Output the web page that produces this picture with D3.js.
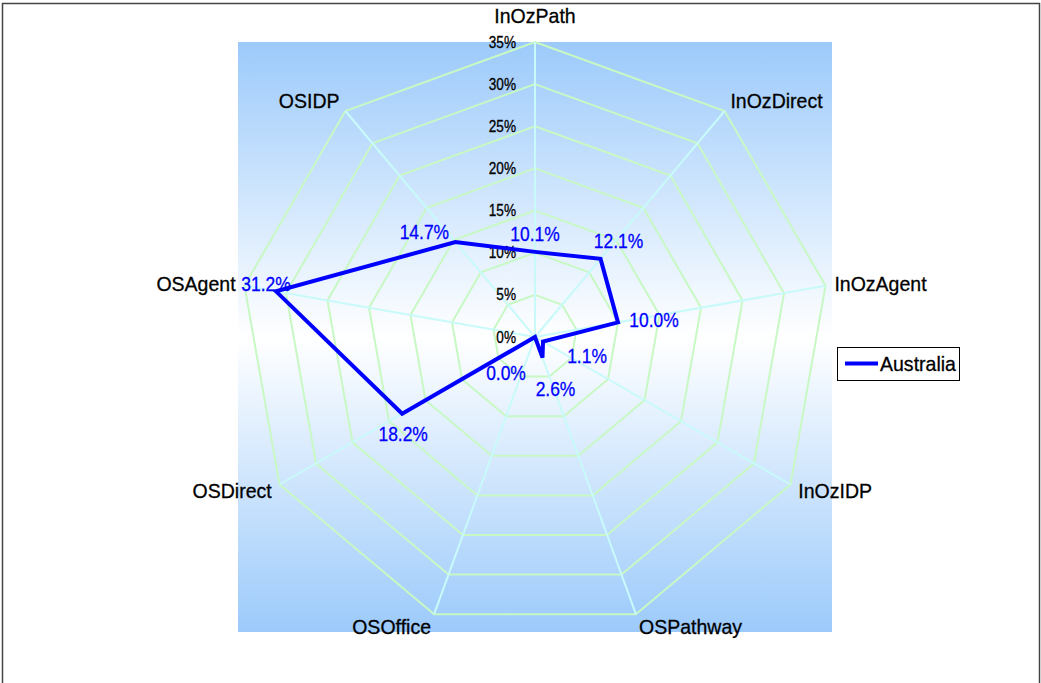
<!DOCTYPE html>
<html>
<head>
<meta charset="utf-8">
<title>Radar</title>
<script src="https://d3js.org/d3.v7.min.js"></script>
<style>
  body { margin: 0; background: #fff; }
  text { font-family: "Liberation Sans", Arial, sans-serif; }
</style>
</head>
<body>
<svg width="1041" height="683"></svg>
<script>
const categories = ["InOzPath", "InOzDirect", "InOzAgent", "InOzIDP", "OSPathway",
                    "OSOffice", "OSDirect", "OSAgent", "OSIDP"];
const australia = [10.1, 12.1, 10.0, 1.1, 2.6, 0.0, 18.2, 31.2, 14.7];
const ticks = [0, 5, 10, 15, 20, 25, 30, 35];
const seriesName = "Australia";
// little nudges for the value labels (px, relative to the point)
const labelNudge = [[0, -18], [18, -18], [36, -3], [44, 14], [13, 31],
                    [-29, 36], [1, 20], [-10, -8], [-31, -10]];

const svg = d3.select("svg");
const cx = 535, cy = 337, R = 295;

// place a horizontally squeezed text at x,y
function ntext(sel, x, y, size, anchor, fill, str, sx) {
  return sel.append("text")
    .attr("transform", `translate(${x},${y}) scale(${sx},1)`)
    .attr("dy", "0.35em").attr("text-anchor", anchor)
    .style("font-size", size + "px").attr("fill", fill)
    .attr("stroke", fill).attr("stroke-width", 0.3)
    .text(str);
}

// outer frame
svg.append("rect").attr("x", 2.5).attr("y", 3.5).attr("width", 1037).attr("height", 700)
   .attr("fill", "none").attr("stroke", "#444").attr("stroke-width", 1.5);

// plot background with vertical gradient
const grad = svg.append("defs").append("linearGradient")
    .attr("id", "bg").attr("x1", 0).attr("y1", 0).attr("x2", 0).attr("y2", 1);
grad.append("stop").attr("offset", "0%").attr("stop-color", "#9ccafb");
grad.append("stop").attr("offset", "50%").attr("stop-color", "#ffffff");
grad.append("stop").attr("offset", "100%").attr("stop-color", "#9ccafb");
svg.append("rect").attr("x", 238).attr("y", 42).attr("width", 594).attr("height", 590)
   .attr("fill", "url(#bg)");

const r = d3.scaleLinear().domain([0, 35]).range([0, R]);
const angle = d3.scalePoint().domain(categories).range([0, 2 * Math.PI * (categories.length - 1) / categories.length]);
const pt = (cat, v) => {
  const a = angle(cat);
  return [cx + r(v) * Math.sin(a), cy - r(v) * Math.cos(a)];
};

const g = svg.append("g");

// rings
ticks.filter(t => t > 0).forEach(t => {
  g.append("polygon")
   .attr("points", categories.map(c => pt(c, t).join(",")).join(" "))
   .attr("fill", "none").attr("stroke", "#c8f8c4").attr("stroke-width", 2);
});

// spokes
categories.forEach(c => {
  const p = pt(c, 35);
  g.append("line").attr("x1", cx).attr("y1", cy).attr("x2", p[0]).attr("y2", p[1])
   .attr("stroke", "#c8fafa").attr("stroke-width", 2);
});

// tick labels
ticks.forEach(t => ntext(g, cx - 19, cy - r(t), 16, "end", "#000", t + "%", 0.85));

// category labels
categories.forEach(c => {
  const a = angle(c);
  const p = pt(c, 35);
  const s = Math.sin(a), co = Math.cos(a);
  let anchor = Math.abs(s) < 0.1 ? "middle" : (s > 0 ? "start" : "end");
  let x = p[0] + 9 * s, y = p[1] - 13 * co;
  if (Math.abs(s) < 0.1) y = p[1] - 26;
  ntext(g, x, y, 21, anchor, "#000", c, 0.93);
});

// series line
const pts = categories.map((c, i) => pt(c, australia[i]));
g.append("path")
  .attr("d", d3.line().curve(d3.curveLinearClosed)(pts))
  .attr("fill", "none").attr("stroke", "#0000ff").attr("stroke-width", 4)
  .attr("stroke-linejoin", "miter");

// value labels
australia.forEach((d, i) => {
  ntext(g, pts[i][0] + labelNudge[i][0], pts[i][1] + labelNudge[i][1], 21,
        "middle", "#0000ff", d.toFixed(1) + "%", 0.83);
});

// legend
const lg = svg.append("g").attr("transform", "translate(837,347)");
lg.append("rect").attr("x", 0.5).attr("y", 0.5).attr("width", 122).attr("height", 33)
  .attr("fill", "#fff").attr("stroke", "#000").attr("stroke-width", 1);
lg.append("line").attr("x1", 8).attr("x2", 41).attr("y1", 16.5).attr("y2", 16.5)
  .attr("stroke", "#0000ff").attr("stroke-width", 4);
ntext(lg, 43, 17, 21, "start", "#000", seriesName, 0.93);
</script>
</body>
</html>
